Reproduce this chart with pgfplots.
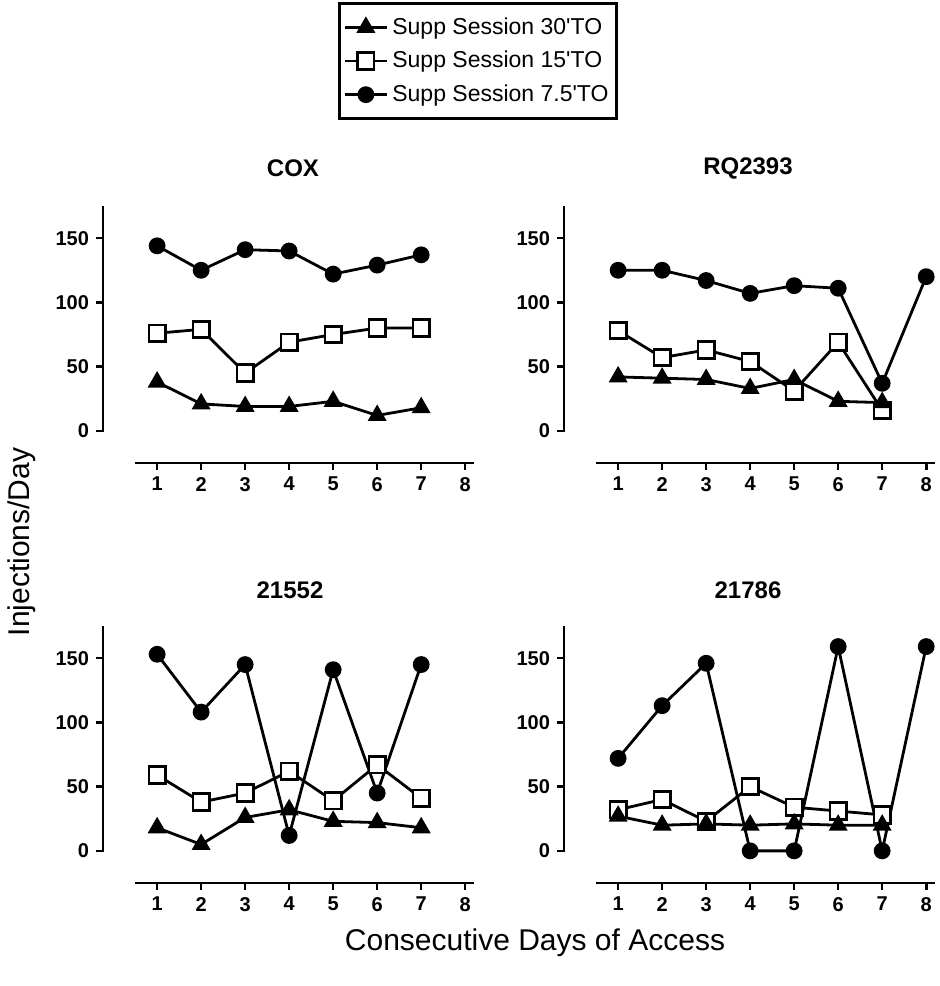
\documentclass[border=0pt]{standalone}
\usepackage{fontspec}
\setmainfont{Liberation Sans}
\usepackage{pgfplots}
\pgfplotsset{compat=1.18}

\pgfplotsset{
  panel/.style={
    scale only axis,
    width=185.5pt, height=128.5pt,
    xmin=-0.23, xmax=8.2,
    ymin=-25, ymax=175,
    axis x line=bottom, axis y line=left,
    axis line style={draw=none},
    xtick={1,...,8},
    ytick={0,50,100,150},
    tick align=outside,
    major tick length=3.5pt,
    tick style={line width=1.3pt, black},
    ticklabel style={font=\fontsize{10}{11}\selectfont\bfseries},
    /pgf/number format/assume math mode=true,
    clip=false,
    anchor=north west,
  },
  circ/.style={black, line width=1.4pt, mark=*, mark size=3.5pt},
  sq/.style={black, line width=1.4pt, mark=square*, mark size=4.1pt, mark options={fill=white}},
  tri/.style={black, line width=1.4pt, mark=triangle*, mark size=4.1pt},
}
% hand-drawn offset axis lines (Prism style)
\newcommand{\axlines}{%
  \draw[line width=1.3pt] (axis cs:0.5,-25) -- (axis cs:8.2,-25);
  \draw[line width=1.3pt] (axis cs:-0.23,-0.6) -- (axis cs:-0.23,175);
}

\begin{document}
\begin{tikzpicture}
\useasboundingbox (0,0) rectangle (470pt,-493pt);

% legend
\begin{axis}[
  at={(239pt,-1pt)}, anchor=north,
  scale only axis, width=1pt, height=1pt,
  xmin=0, xmax=1, ymin=0, ymax=1, hide axis,
  legend style={at={(0.5,1)}, anchor=north, draw=black, line width=1.5pt,
    font=\fontsize{11.5}{13}\selectfont, row sep=3pt,
    inner xsep=2pt, inner ysep=5pt},
  legend cell align=left,
  legend image code/.code={%
    \draw[mark repeat=2, mark phase=2] plot coordinates {(0cm,0cm) (0.37cm,0cm) (0.74cm,0cm)};},
]
\addlegendimage{tri}
\addlegendentry{Supp Session 30\textquotesingle TO}
\addlegendimage{sq}
\addlegendentry{Supp Session 15\textquotesingle TO}
\addlegendimage{circ}
\addlegendentry{Supp Session 7.5\textquotesingle TO}
\end{axis}

% COX
\begin{axis}[panel, at={(51.5pt,-103pt)}]
\axlines
\addplot[circ] coordinates {(1,144)(2,125)(3,141)(4,140)(5,122)(6,129)(7,137)};
\addplot[sq] coordinates {(1,76)(2,79)(3,45)(4,69)(5,75)(6,80)(7,80)};
\addplot[tri] coordinates {(1,38)(2,21)(3,19)(4,19)(5,23)(6,12)(7,18)};
\end{axis}

% RQ2393
\begin{axis}[panel, at={(282pt,-103pt)}]
\axlines
\addplot[circ] coordinates {(1,125)(2,125)(3,117)(4,107)(5,113)(6,111)(7,37)(8,120)};
\addplot[sq] coordinates {(1,78)(2,57)(3,63)(4,54)(5,31)(6,69)(7,16)};
\addplot[tri] coordinates {(1,42)(2,41)(3,40)(4,33)(5,40)(6,23)(7,22)};
\end{axis}

% 21552
\begin{axis}[panel, at={(51.5pt,-313pt)}]
\axlines
\addplot[circ] coordinates {(1,153)(2,108)(3,145)(4,12)(5,141)(6,45)(7,145)};
\addplot[sq] coordinates {(1,59)(2,38)(3,45)(4,62)(5,39)(6,67)(7,41)};
\addplot[tri] coordinates {(1,18)(2,5)(3,26)(4,32)(5,23)(6,22)(7,18)};
\end{axis}

% 21786
\begin{axis}[panel, at={(282pt,-313pt)}]
\axlines
\addplot[circ] coordinates {(1,72)(2,113)(3,146)(4,0)(5,0)(6,159)(7,0)(8,159)};
\addplot[sq] coordinates {(1,32)(2,40)(3,23)(4,50)(5,34)(6,31)(7,28)};
\addplot[tri] coordinates {(1,27)(2,20)(3,21)(4,20)(5,21)(6,20)(7,20)};
\end{axis}

% titles and shared labels
\begin{scope}[every node/.style={font=\bfseries\fontsize{12}{14}\selectfont}]
\node at (146.5pt,-84pt) {COX};
\node at (374pt,-84pt) {RQ2393};
\node at (145pt,-295pt) {21552};
\node at (374pt,-295pt) {21786};
\end{scope}
\node[rotate=90, font=\fontsize{15}{18}\selectfont] at (11pt,-271pt) {Injections/Day};
\node[font=\fontsize{15}{18}\selectfont] at (267.5pt,-471.5pt) {Consecutive Days of Access};
\end{tikzpicture}
\end{document}
